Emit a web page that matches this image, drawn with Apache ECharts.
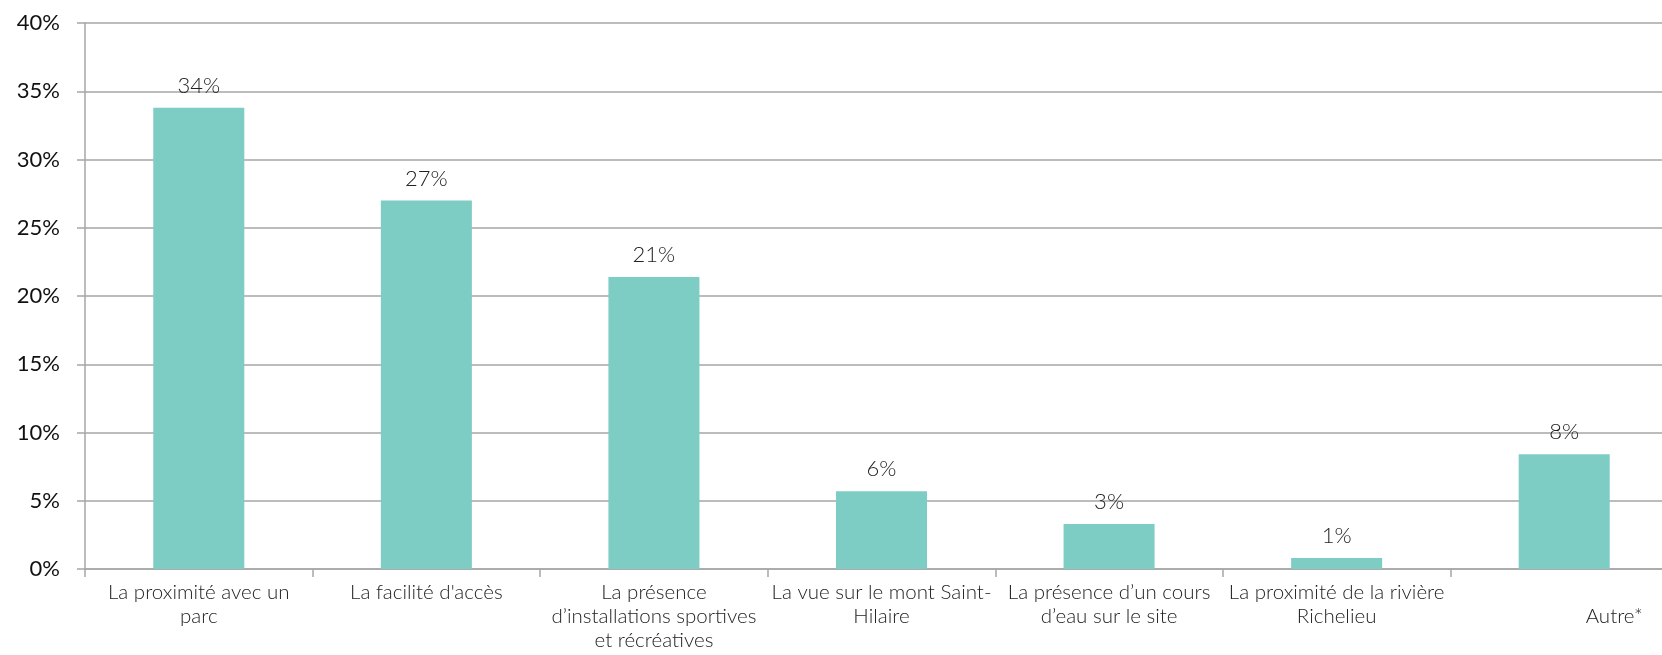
<!DOCTYPE html>
<html><head><meta charset="utf-8">
<script src="https://cdn.jsdelivr.net/npm/echarts@6/dist/echarts.min.js"></script>
<style>html,body{margin:0;padding:0;background:#fff}#c{width:1662px;height:655px}</style>
</head><body><div id="c"></div>
<script>
const categories = ["La proximité avec un\nparc", "La facilité d'accès", "La présence\nd’installations sportives\net récréatives", "La vue sur le mont Saint-\nHilaire", "La présence d’un cours\nd’eau sur le site", "La proximité de la rivière\nRichelieu", "Autre*"];
const values = [33.8, 27.0, 21.4, 5.7, 3.3, 0.8, 8.4];
const yTicks = [0, 5, 10, 15, 20, 25, 30, 35, 40];

const chart = echarts.init(document.getElementById('c'));
chart.setOption({
  animation: false,
  grid: {left: 85, width: 1593, top: 23, bottom: 86, containLabel: false, outerBoundsMode: 'none'},
  xAxis: {
    type: 'category', data: categories,
    axisLine: {lineStyle: {color: '#A6A6A6', width: 1.5}},
    axisTick: {show: true, length: 8, lineStyle: {color: '#A6A6A6', width: 1.5}},
    axisLabel: {
      interval: 0, margin: 11, color: '#222', fontFamily: 'Lato', fontWeight: 300, fontSize: 20.5, lineHeight: 24,
      hideOverlap: false,
      formatter: function (v) { return v === 'Autre*' ? '\n{o|Autre*}' : v; },
      rich: {o: {padding: [0, 0, 0, 100], fontFamily: 'Lato', fontWeight: 300, fontSize: 20.5, color: '#222', lineHeight: 24}}
    }
  },
  yAxis: {
    type: 'value', min: 0, max: 40, interval: 5,
    axisLine: {show: true, lineStyle: {color: '#A6A6A6', width: 1.5}},
    axisTick: {show: true, length: 8, lineStyle: {color: '#A6A6A6', width: 1.5}},
    splitLine: {lineStyle: {color: '#A6A6A6', width: 1.5}},
    axisLabel: {
      margin: 25, color: '#111', fontFamily: 'Lato', fontSize: 22,
      formatter: function (v) { return yTicks.indexOf(v) >= 0 ? v + '%' : ''; }
    }
  },
  series: [{
    type: 'bar', data: values, barWidth: '40%',
    itemStyle: {color: '#7ECDC4'},
    label: {
      show: true, position: 'top', distance: 11, color: '#222', fontFamily: 'Lato', fontWeight: 300, fontSize: 22,
      formatter: function (p) { return Math.round(p.value) + '%'; }
    }
  }]
});
</script></body></html>
